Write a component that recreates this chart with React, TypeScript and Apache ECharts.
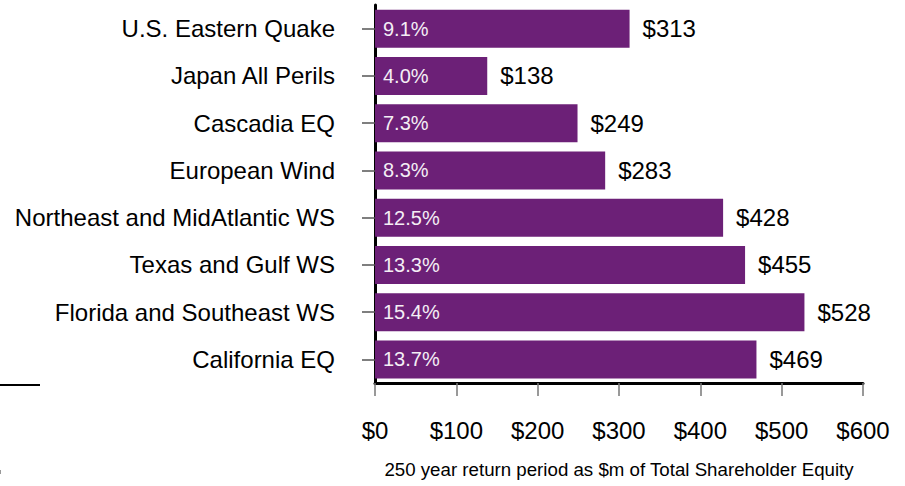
import React, { useEffect, useRef } from "react";
import * as echarts from "echarts";

const categories = [
  "U.S. Eastern Quake",
  "Japan All Perils",
  "Cascadia EQ",
  "European Wind",
  "Northeast and MidAtlantic WS",
  "Texas and Gulf WS",
  "Florida and Southeast WS",
  "California EQ",
];
const values = [313, 138, 249, 283, 428, 455, 528, 469];
const percents = ["9.1%", "4.0%", "7.3%", "8.3%", "12.5%", "13.3%", "15.4%", "13.7%"];
const xTicks = { min: 0, max: 600, interval: 100 };
const axisTitle = "250 year return period as $m of Total Shareholder Equity";

const FONT = "'Liberation Sans', Arial, Helvetica, sans-serif";
const PURPLE = "#6c2077";

export default function App() {
  const ref = useRef<HTMLDivElement>(null);
  useEffect(() => {
    if (!ref.current) return;
    const chart = echarts.init(ref.current, null, { renderer: "svg" });
    chart.setOption({
      animation: false,
      backgroundColor: "#ffffff",
      textStyle: { fontFamily: FONT },
      grid: { left: 375, right: 42, top: 5, bottom: 103, containLabel: false },
      xAxis: {
        type: "value",
        min: xTicks.min,
        max: xTicks.max,
        interval: xTicks.interval,
        axisLine: { show: true, lineStyle: { color: "#000", width: 3 } },
        axisTick: { show: true, length: 13, lineStyle: { color: "#777", width: 1.5 } },
        splitLine: { show: false },
        axisLabel: {
          formatter: (v: number) => "$" + v,
          fontSize: 24,
          color: "#000",
          margin: 35,
          fontFamily: FONT,
        },
        name: axisTitle,
        nameLocation: "middle",
        nameGap: 77,
        nameTextStyle: { fontSize: 18.7, color: "#000", fontFamily: FONT },
      },
      yAxis: {
        type: "category",
        inverse: true,
        data: categories,
        axisLine: { show: true, lineStyle: { color: "#000", width: 3 } },
        axisTick: { show: true, alignWithLabel: true, length: 13, lineStyle: { color: "#555", width: 1.5 } },
        axisLabel: { fontSize: 24, color: "#000", margin: 40, fontFamily: FONT },
        splitLine: { show: false },
      },
      series: [
        {
          type: "bar",
          data: values,
          barWidth: 38,
          itemStyle: { color: PURPLE },
          label: {
            show: true,
            position: "right",
            distance: 13,
            formatter: (p: any) => "$" + p.value,
            fontSize: 24,
            color: "#000",
            fontFamily: FONT,
          },
        },
        {
          type: "bar",
          data: values,
          barWidth: 38,
          barGap: "-100%",
          itemStyle: { color: "rgba(0,0,0,0)" },
          label: {
            show: true,
            position: "insideLeft",
            distance: 8,
            formatter: (p: any) => percents[p.dataIndex],
            fontSize: 20,
            color: "#f4eef5",
            fontFamily: FONT,
          },
          silent: true,
        },
      ],
      graphic: [
        {
          type: "line",
          shape: { x1: 0, y1: 385, x2: 40, y2: 385 },
          style: { stroke: "#000", lineWidth: 2 },
        },
        {
          type: "rect",
          shape: { x: 0, y: 470, width: 1, height: 4 },
          style: { fill: "#999" },
        },
      ],
    });
    return () => chart.dispose();
  }, []);
  return (
    <div
      ref={ref}
      style={{ position: "fixed", left: 0, top: 0, width: 905, height: 486 }}
    />
  );
}
